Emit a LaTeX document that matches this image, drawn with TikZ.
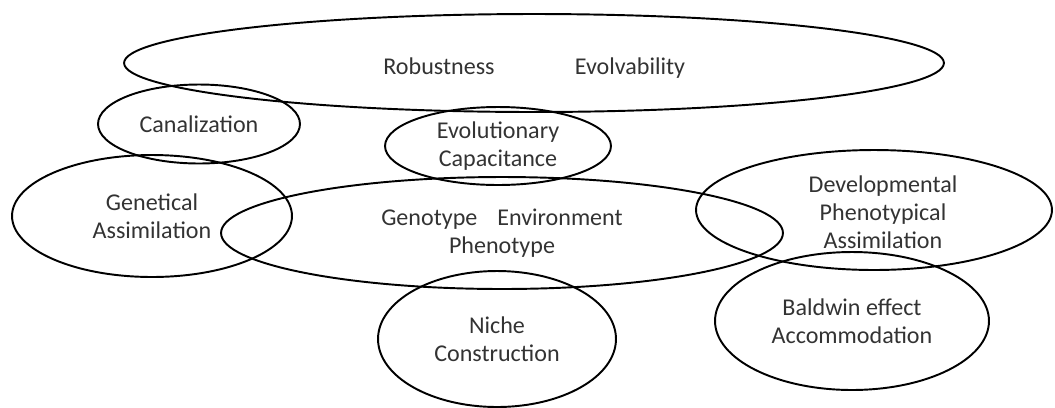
\documentclass[tikz,border=0pt]{standalone}
\usepackage{fontspec}
\setmainfont{Carlito}
\usetikzlibrary{shapes.geometric}

\begin{document}
\begin{tikzpicture}[x=0.02cm,y=-0.02cm,
  blob/.style={ellipse,draw,line width=1.1pt,inner sep=0pt,align=center,
    font=\fontsize{13.7}{16}\selectfont,text=black!80},
  word/.style={align=center,font=\fontsize{13.7}{16}\selectfont,text=black!80}]
  \useasboundingbox (0,0) rectangle (1055,407);

  \node[blob,minimum width=16.4cm,minimum height=1.96cm] (top) at (534,63) {};
  \node[word,anchor=base] (rob) at (439,74) {Robustness};
  \node[word,anchor=base] (evo) at (630,74) {Evolvability};

  \node[blob,minimum width=4.04cm,minimum height=1.58cm] (can) at (199,124) {Canalization};
  \node[blob,minimum width=4.52cm,minimum height=1.56cm] (cap) at (498,146) {Evolutionary\\Capacitance};
  \node[blob,minimum width=5.6cm,minimum height=2.44cm] (gen) at (152,216) {Genetical\\Assimilation};
  \node[blob,minimum width=11.24cm,minimum height=2.24cm] (gep) at (502,233) {Genotype\hspace{0.6em} Environment\\Phenotype};
  \node[blob,minimum width=7.12cm,minimum height=2.4cm] (dev) at (874,210) {};
  \node[word] (devtxt) at (883,212) {Developmental\\Phenotypical\\Assimilation};
  \node[blob,minimum width=4.76cm,minimum height=2.72cm] (nic) at (497,339) {Niche\\Construction};
  \node[blob,minimum width=5.48cm,minimum height=2.76cm] (bal) at (852,321) {Baldwin effect\\Accommodation};
\end{tikzpicture}
\end{document}
